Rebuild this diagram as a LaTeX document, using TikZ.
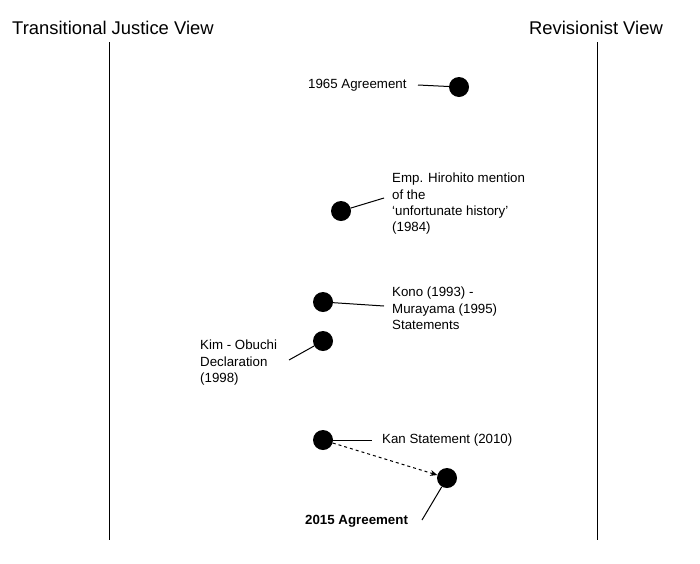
\documentclass[tikz,border=0pt]{standalone}
\usepackage{fontspec}
\setmainfont{Liberation Sans}
\usetikzlibrary{arrows.meta}
\begin{document}
\begin{tikzpicture}[x=1pt,y=-1pt,
  dot/.style={circle,fill=black,inner sep=0pt,minimum size=20pt},
  lbl/.style={font=\fontsize{13.3}{16.2}\selectfont,align=left,inner sep=0pt},
  title/.style={font=\fontsize{18.4}{21}\selectfont,inner sep=0pt},
  lead/.style={line width=1pt}]
\useasboundingbox (0,0) rectangle (700,563);
\node[title,anchor=west] (tj) at (12,28) {Transitional Justice View};
\node[title,anchor=east] (rv) at (663,28) {Revisionist View};
\coordinate (l1) at (109,42); \coordinate (l2) at (109,540);
\coordinate (r1) at (597,42); \coordinate (r2) at (597,540);
\draw[line width=1pt] (l1) -- (l2);
\draw[line width=1pt] (r1) -- (r2);
% 1965
\node[dot] (d65) at (459,87) {};
\node[lbl,anchor=west] (t65) at (308,85) {1965 Agreement};
\coordinate (c65) at (418,85);
\draw[lead] (c65) -- (d65);
% Hirohito
\node[dot] (d84) at (341,211) {};
\node[lbl,anchor=north west] (t84) at (392,173) {Emp. Hirohito mention\\of the\\`unfortunate history'\\(1984)};
\coordinate (c84) at (384,198);
\draw[lead] (d84) -- (c84);
% Kono
\node[dot] (d93) at (323,302) {};
\node[lbl,anchor=north west] (t93) at (392,287) {Kono (1993) -\\Murayama (1995)\\Statements};
\coordinate (c93) at (384,306);
\draw[lead] (d93) -- (c93);
% Kim
\node[dot] (d98) at (323,341) {};
\node[lbl,anchor=north west] (t98) at (200,340) {Kim - Obuchi\\Declaration\\(1998)};
\coordinate (c98) at (289,360);
\draw[lead] (d98) -- (c98);
% Kan
\node[dot] (d10) at (323,440) {};
\node[lbl,anchor=west] (t10) at (382,440) {Kan Statement (2010)};
\coordinate (c10) at (372,440);
\draw[lead] (d10) -- (c10);
% 2015
\node[dot] (d15) at (447,478) {};
\node[lbl,anchor=west,font=\fontsize{13.3}{16.2}\selectfont\bfseries] (t15) at (305,521) {2015 Agreement};
\coordinate (c15) at (422,520);
\draw[lead] (d15) -- (c15);
\draw[lead,dashed,-{Stealth[length=7pt,width=6pt]}] (d10) -- (d15);
\end{tikzpicture}
\end{document}
